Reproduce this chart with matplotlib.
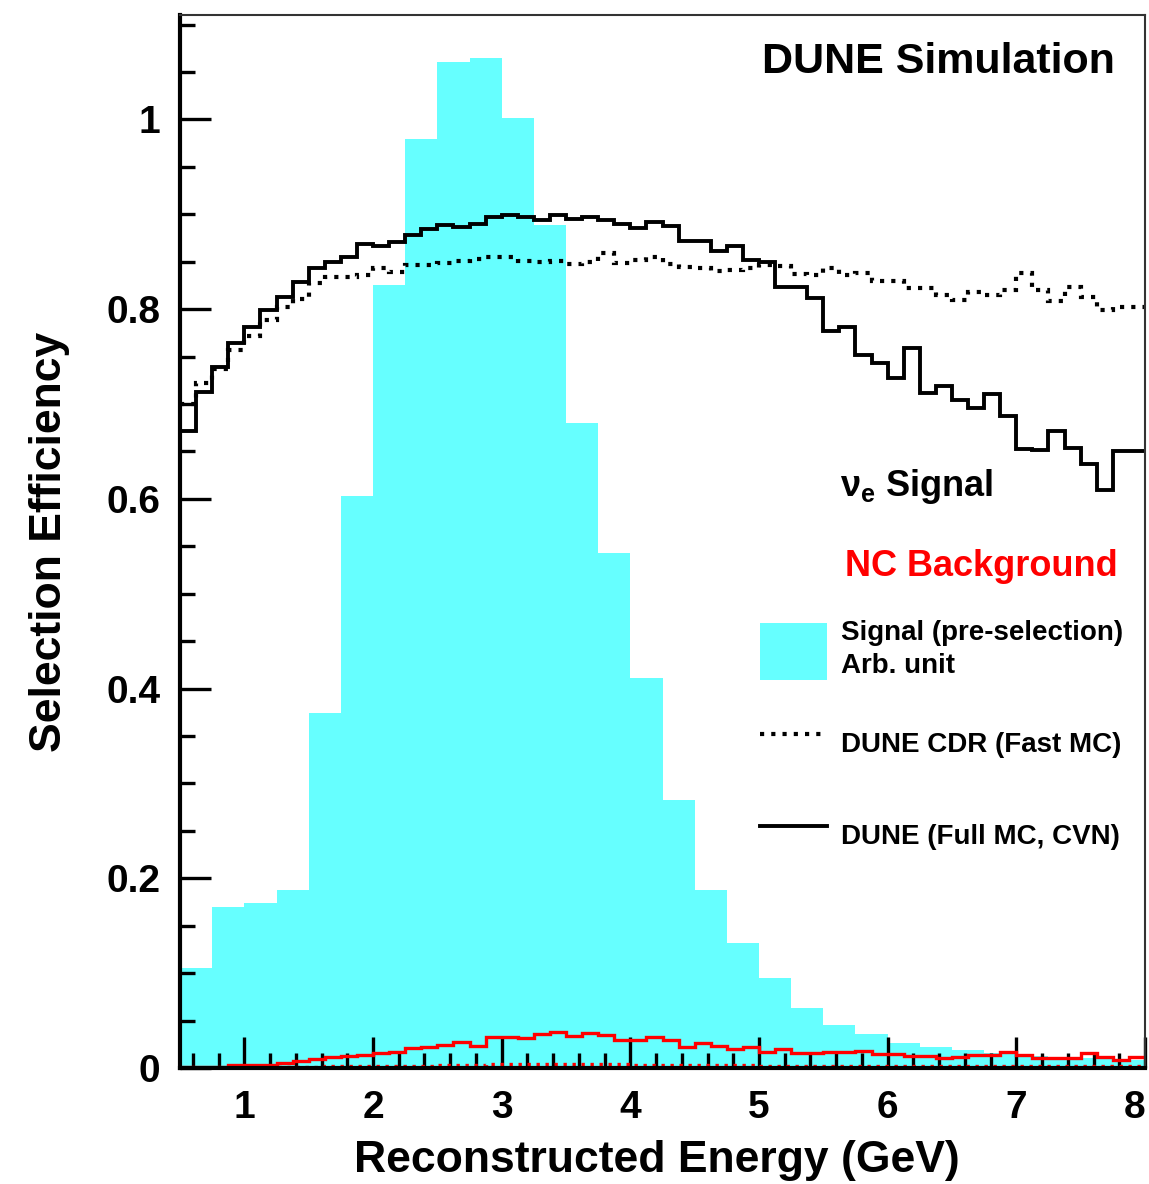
import numpy as np
import matplotlib
matplotlib.use("Agg")
import matplotlib.pyplot as plt
from matplotlib.patches import Patch
from matplotlib.lines import Line2D

# Шрифти в стилі ROOT (Helvetica bold -> Liberation Sans bold).
plt.rcParams['font.family'] = ['Liberation Sans', 'DejaVu Sans']
plt.rcParams['font.weight'] = 'bold'
plt.rcParams['mathtext.fontset'] = 'custom'
plt.rcParams['mathtext.rm'] = 'Liberation Sans'
plt.rcParams['mathtext.it'] = 'Liberation Sans'
plt.rcParams['mathtext.bf'] = 'Liberation Sans:bold'

# Гістограма сигналу (до відбору), біни по 0.25 ГеВ від 0.5 до 8.
signal_lo = 0.5
signal_width = 0.25
signal_presel = [0.105, 0.170, 0.174, 0.188, 0.374, 0.603, 0.825, 0.979, 1.061, 1.065,
                 1.001, 0.889, 0.680, 0.543, 0.411, 0.282, 0.188, 0.132, 0.095, 0.063,
                 0.045, 0.036, 0.026, 0.022, 0.019, 0.016, 0.013, 0.011, 0.010, 0.008]

# Ефективності, біни по 0.125 ГеВ від 0.5 до 8.
eff_lo = 0.5
eff_hi = 8.0
eff_full_cvn = [0.672, 0.713, 0.739, 0.764, 0.781, 0.799, 0.813, 0.829, 0.843, 0.850,
                0.855, 0.869, 0.867, 0.871, 0.878, 0.884, 0.889, 0.887, 0.890, 0.897,
                0.899, 0.897, 0.894, 0.899, 0.895, 0.897, 0.894, 0.890, 0.885, 0.892,
                0.888, 0.872, 0.872, 0.861, 0.867, 0.852, 0.850, 0.823, 0.823, 0.812,
                0.777, 0.781, 0.752, 0.743, 0.727, 0.759, 0.712, 0.719, 0.704, 0.696,
                0.711, 0.687, 0.652, 0.651, 0.672, 0.654, 0.637, 0.609, 0.650, 0.650]
eff_cdr_fast = [0.700, 0.722, 0.737, 0.757, 0.772, 0.788, 0.802, 0.811, 0.827, 0.834,
                0.834, 0.836, 0.843, 0.839, 0.846, 0.847, 0.849, 0.851, 0.853, 0.855,
                0.855, 0.851, 0.850, 0.851, 0.848, 0.850, 0.859, 0.849, 0.852, 0.855,
                0.848, 0.844, 0.843, 0.840, 0.841, 0.843, 0.846, 0.845, 0.837, 0.836,
                0.843, 0.836, 0.838, 0.830, 0.830, 0.822, 0.822, 0.815, 0.810, 0.818,
                0.815, 0.820, 0.838, 0.820, 0.809, 0.823, 0.813, 0.799, 0.802, 0.802]
nc_full_cvn = [0.0015, 0.0015, 0.0015, 0.003, 0.003, 0.003, 0.005, 0.007, 0.009, 0.012,
               0.013, 0.014, 0.016, 0.017, 0.021, 0.022, 0.024, 0.027, 0.023, 0.033,
               0.033, 0.032, 0.036, 0.038, 0.034, 0.037, 0.035, 0.030, 0.030, 0.033,
               0.029, 0.022, 0.026, 0.023, 0.020, 0.022, 0.017, 0.020, 0.016, 0.016,
               0.017, 0.017, 0.018, 0.015, 0.015, 0.013, 0.013, 0.011, 0.012, 0.014,
               0.014, 0.017, 0.014, 0.010, 0.010, 0.010, 0.016, 0.012, 0.008, 0.012]
nc_cdr_fast = [0.0, 0.0, 0.0, 0.0005, 0.001, 0.001, 0.001, 0.0015, 0.0015, 0.002,
               0.002, 0.002, 0.002, 0.002, 0.0025, 0.0025, 0.003, 0.003, 0.003, 0.004,
               0.004, 0.004, 0.004, 0.004, 0.004, 0.004, 0.004, 0.004, 0.003, 0.003,
               0.003, 0.003, 0.003, 0.003, 0.003, 0.003, 0.002, 0.002, 0.002, 0.002,
               0.002, 0.002, 0.002, 0.002, 0.002, 0.002, 0.002, 0.002, 0.002, 0.002,
               0.002, 0.002, 0.002, 0.002, 0.002, 0.002, 0.002, 0.002, 0.002, 0.002]

x_ticks = [1, 2, 3, 4, 5, 6, 7, 8]
x_tick_labels = ["1", "2", "3", "4", "5", "6", "7", "8"]
y_ticks = [0, 0.2, 0.4, 0.6, 0.8, 1.0]
y_tick_labels = ["0", "0.2", "0.4", "0.6", "0.8", "1"]

cyan = '#66FFFF'
dot_style = (0, (1.0, 1.7))

fig = plt.figure(figsize=(11.49, 11.84), dpi=100)
ax = fig.add_axes([0.1567, 0.098, 0.8398, 0.8893])

# Сигнал (заливка).
sig_edges = signal_lo + signal_width * np.arange(len(signal_presel))
ax.bar(sig_edges, signal_presel, width=signal_width, align='edge',
       color=cyan, linewidth=0, zorder=1)

# Ефективності (сходинки).
edges = np.linspace(eff_lo, eff_hi, len(eff_full_cvn) + 1)
ax.stairs(eff_cdr_fast, edges, baseline=None, color='black', lw=3.0,
          linestyle=dot_style, zorder=3)
ax.stairs(eff_full_cvn, edges, baseline=None, color='black', lw=2.8, zorder=3)
ax.stairs(nc_cdr_fast, edges, baseline=None, color='red', lw=2.4,
          linestyle=dot_style, zorder=3)
ax.stairs(nc_full_cvn, edges, baseline=None, color='red', lw=2.4, zorder=3)

ax.set_xlim(0.5, 8.0)
ax.set_ylim(0, 1.11)

# Осі та поділки в стилі ROOT.
ax.set_xticks(x_ticks)
ax.set_xticklabels(x_tick_labels)
ax.set_yticks(y_ticks)
ax.set_yticklabels(y_tick_labels)
ax.set_xticks(np.arange(0.6, 8.0, 0.2), minor=True)
ax.set_yticks(np.arange(0.05, 1.11, 0.05), minor=True)
ax.tick_params(which='both', direction='in', top=False, right=False, width=2.4, color='black')
ax.tick_params(which='major', length=22, labelsize=28, pad=14)
ax.tick_params(which='minor', length=11)
ax.tick_params(axis='x', which='major', pad=16)
for lab in ax.get_xticklabels() + ax.get_yticklabels():
    lab.set_fontweight('bold')
# Остання мітка "8" біля краю - зсуваємо, щоб не обрізалась.
ax.get_xticklabels()[-1].set_ha('right')

for side in ['left', 'bottom']:
    ax.spines[side].set_linewidth(3.0)
for side in ['top', 'right']:
    ax.spines[side].set_linewidth(1.5)
    ax.spines[side].set_color('#333333')
for spine in ax.spines.values():
    spine.set_zorder(4)

ax.set_xlabel("Reconstructed Energy (GeV)", fontsize=32, fontweight='bold')
ax.set_ylabel("Selection Efficiency", fontsize=32, fontweight='bold')
ax.xaxis.label.set_va('center')
ax.yaxis.label.set_va('center')
ax.xaxis.set_label_coords(0.494, -0.088)
ax.yaxis.set_label_coords(-0.135, 0.5)

# Підписи.
ax.text(0.969, 0.955, "DUNE Simulation", transform=ax.transAxes, ha='right', va='center',
        fontsize=31, fontweight='bold')
ax.text(0.684, 0.552, r"$\mathregular{\nu}_{\mathregular{e}}$ Signal", transform=ax.transAxes,
        ha='left', va='center', fontsize=26, fontweight='bold')
ax.text(0.689, 0.476, "NC Background", transform=ax.transAxes, ha='left', va='center',
        fontsize=26, fontweight='bold', color='red')

# Легенда.
handles = [Patch(facecolor=cyan, edgecolor='none'),
           Line2D([], [], color='black', lw=3.0, linestyle=dot_style),
           Line2D([], [], color='black', lw=2.8)]
labels = ["Signal (pre-selection)\nArb. unit", "DUNE CDR (Fast MC)", "DUNE (Full MC, CVN)"]
leg = ax.legend(handles, labels, loc='upper left', bbox_to_anchor=(0.601, 0.425),
                frameon=False, handlelength=2.4, handleheight=2.8,
                handletextpad=0.5, labelspacing=1.25, borderpad=0, borderaxespad=0,
                prop={'weight': 'bold', 'size': 20})
for t in leg.get_texts():
    t.set_linespacing(1.35)

fig.savefig("out.png", dpi=100)
